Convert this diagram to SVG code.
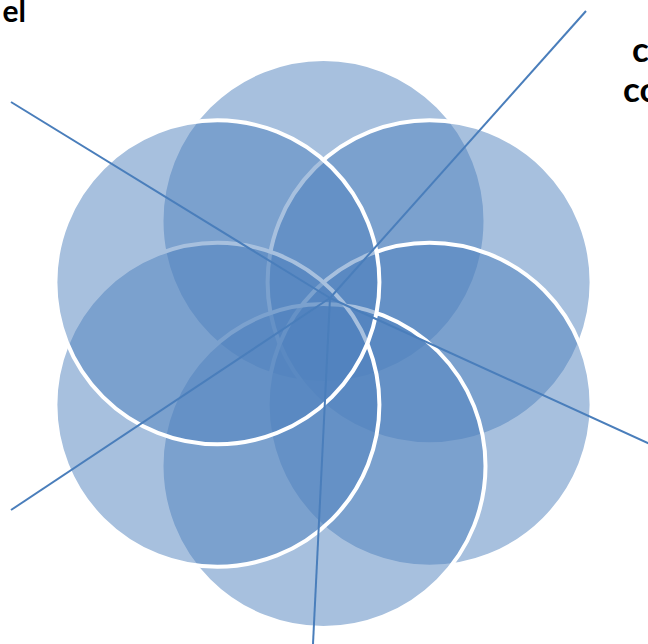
<svg xmlns="http://www.w3.org/2000/svg" width="648" height="644" viewBox="0 0 648 644">
  <style>
    .c { fill: #4f81bd; fill-opacity: 0.5; stroke: #ffffff; stroke-width: 4; }
    .ln { stroke: #4a7ebb; stroke-width: 2; fill: none; stroke-linecap: butt; }
    .t { font-family: Lato, "Liberation Sans", sans-serif; font-weight: bold; fill: #000000; }
  </style>
  <rect width="648" height="644" fill="#ffffff"/>
  <g id="circle-top"><circle class="c" cx="323.5" cy="221" r="162"/></g>
  <g id="circle-upper-right"><circle class="c" cx="429.6" cy="282.3" r="162"/></g>
  <g id="circle-lower-right"><circle class="c" cx="429.6" cy="404.8" r="162"/></g>
  <g id="circle-bottom"><circle class="c" cx="323.5" cy="466" r="162"/></g>
  <g id="circle-lower-left"><circle class="c" cx="217.4" cy="404.8" r="162"/></g>
  <g id="circle-upper-left"><circle class="c" cx="217.4" cy="282.3" r="162"/></g>
  <g id="connectors">
    <line class="ln" x1="330" y1="298" x2="11" y2="102"/>
    <line class="ln" x1="330" y1="298" x2="586" y2="11"/>
    <line class="ln" x1="330" y1="298" x2="650" y2="444"/>
    <line class="ln" x1="330" y1="298" x2="313" y2="644"/>
    <line class="ln" x1="330" y1="298" x2="11" y2="510"/>
  </g>
  <g id="label-left"><text class="t" x="26" y="22" font-size="30" text-anchor="end">el</text></g>
  <g id="label-right"><text class="t" x="632" y="62" font-size="35">c</text><text class="t" x="623" y="102" font-size="35">co</text></g>
</svg>
